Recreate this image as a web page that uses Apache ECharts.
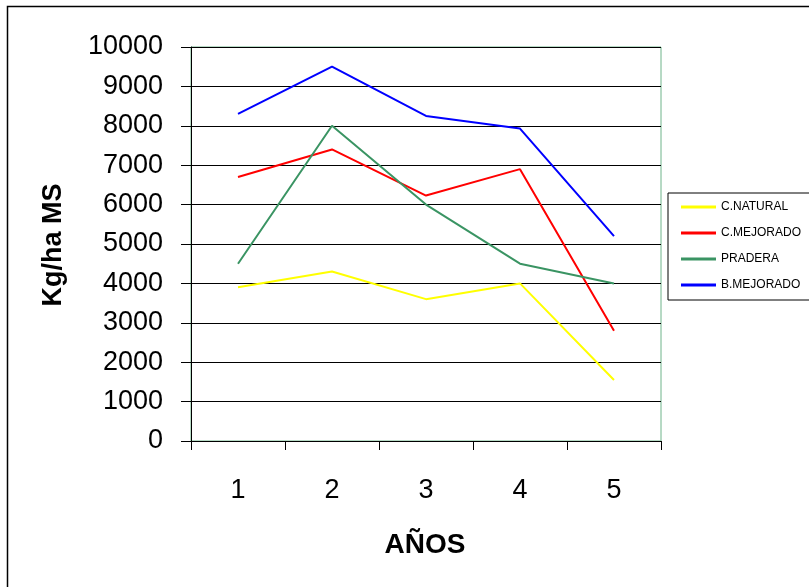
<!DOCTYPE html>
<html>
<head>
<meta charset="utf-8">
<script src="https://cdn.jsdelivr.net/npm/echarts@6/dist/echarts.min.js"></script>
<style>
  html, body { margin: 0; padding: 0; background: #fff; }
  #chart { width: 809px; height: 587px; }
</style>
</head>
<body>
<div id="chart"></div>
<script>
// Years on the horizontal axis
const years = ['1', '2', '3', '4', '5'];

// Dry matter production (Kg/ha MS) per treatment
const cNatural   = [3900, 4300, 3600, 4000, 1550];
const cMejorado  = [6700, 7400, 6230, 6900, 2800];
const pradera    = [4500, 8000, 6000, 4500, 4000];
const bMejorado  = [8300, 9500, 8250, 7930, 5200];

const seriesNames = ['C.NATURAL', 'C.MEJORADO', 'PRADERA', 'B.MEJORADO'];
const seriesColors = ['#ffff00', '#ff0000', '#3a9463', '#0000ff'];
const seriesData = [cNatural, cMejorado, pradera, bMejorado];

const chart = echarts.init(document.getElementById('chart'));

const font = '"Liberation Sans", Arial, sans-serif';
const narrow = '"Liberation Sans Narrow", "Arial Narrow", "Liberation Sans", sans-serif';

chart.setOption({
  animation: false,
  backgroundColor: '#fff',
  grid: {
    left: 191, top: 47, width: 470, height: 394,
    show: true, borderColor: '#6fb48a', borderWidth: 1, backgroundColor: 'transparent'
  },
  legend: {
    orient: 'vertical',
    left: 668, top: 193,
    padding: [7, 60, 8, 13],
    itemGap: 12,
    itemWidth: 35, itemHeight: 3,
    icon: 'rect',
    borderColor: '#000', borderWidth: 1,
    textStyle: { fontFamily: narrow, fontSize: 12, lineHeight: 14, color: '#000' },
    data: seriesNames
  },
  xAxis: {
    type: 'category',
    data: years,
    boundaryGap: true,
    axisLine: { lineStyle: { color: '#000', width: 1 } },
    axisTick: { show: true, length: 9, lineStyle: { color: '#000' } },
    axisLabel: { fontFamily: font, fontSize: 27, color: '#000', margin: 36 }
  },
  yAxis: {
    type: 'value',
    min: 0, max: 10000, interval: 1000,
    axisLine: { show: true, lineStyle: { color: '#000', width: 1 } },
    axisTick: { show: true, length: 10, lineStyle: { color: '#000' } },
    axisLabel: {
      fontFamily: font, fontSize: 27, color: '#000', margin: 28,
      formatter: v => String(v)
    },
    splitLine: { show: true, lineStyle: { color: '#000', width: 1 } }
  },
  series: seriesData.map((d, i) => ({
    name: seriesNames[i],
    type: 'line',
    data: d,
    symbol: 'none',
    color: seriesColors[i],
    lineStyle: { width: 2, color: seriesColors[i] }
  })),
  graphic: [
    {
      type: 'rect', silent: true, z: -10,
      shape: { x: 7.5, y: 6.5, width: 830, height: 620 },
      style: { fill: 'none', stroke: '#000', lineWidth: 1.5 }
    },
    {
      type: 'text', silent: true,
      style: { text: 'Kg/ha MS', font: 'bold 27px ' + font, fill: '#000', textAlign: 'center', textVerticalAlign: 'middle' },
      x: 54, y: 245, rotation: Math.PI / 2
    },
    {
      type: 'text', silent: true,
      style: { text: 'AÑOS', font: 'bold 28px ' + font, fill: '#000', textAlign: 'center', textVerticalAlign: 'middle' },
      x: 425, y: 545
    }
  ]
});
</script>
</body>
</html>
